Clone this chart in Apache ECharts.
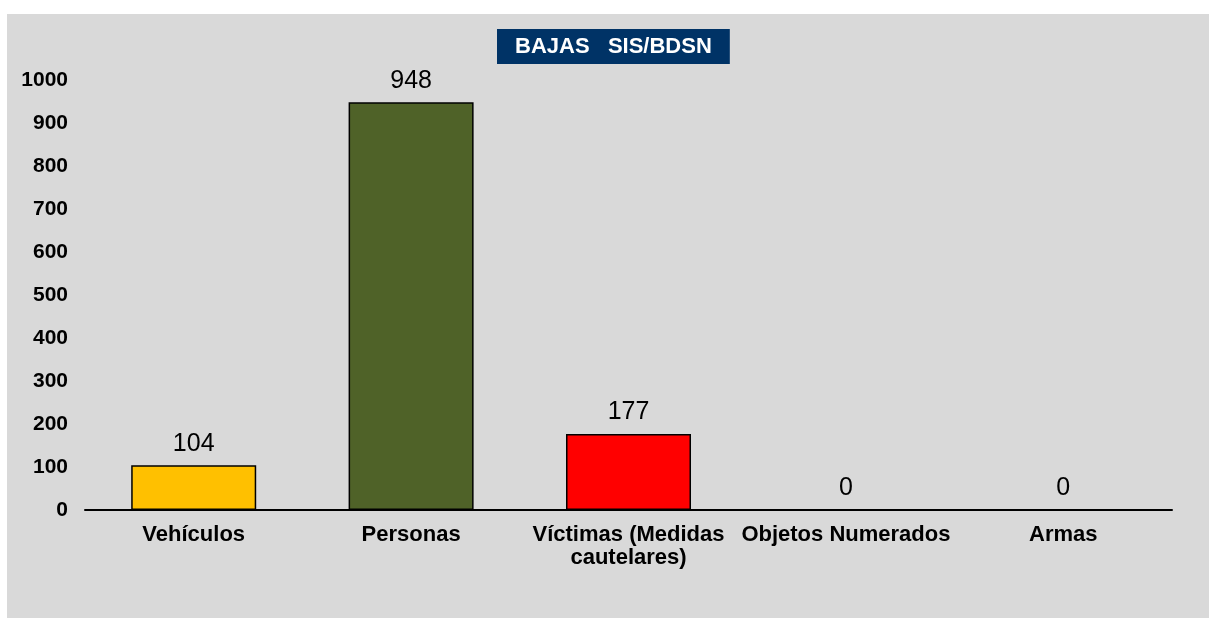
<!DOCTYPE html>
<html>
<head>
<meta charset="utf-8">
<style>
html,body{margin:0;padding:0;background:#ffffff;}
#chart{width:1209px;height:618px;}
</style>
<script src="https://cdn.jsdelivr.net/npm/echarts@6/dist/echarts.min.js"></script>
</head>
<body>
<div id="chart"></div>
<script>
const categories = ['Vehículos', 'Personas', 'Víctimas (Medidas\ncautelares)', 'Objetos Numerados', 'Armas'];
const values = [104, 948, 177, 0, 0];
const barColors = ['#FFC000', '#4F6228', '#FF0000', '#7F7F7F', '#7F7F7F'];
const yTicks = [0, 100, 200, 300, 400, 500, 600, 700, 800, 900, 1000];
const titleText = 'BAJAS   SIS/BDSN';

const chart = echarts.init(document.getElementById('chart'), null, {renderer: 'canvas'});
const font = '"Liberation Sans", Arial, sans-serif';
chart.setOption({
  backgroundColor: '#ffffff',
  animation: false,
  graphic: [{
    type: 'rect', left: 7, top: 14, z: -10,
    shape: {width: 1202, height: 604},
    style: {fill: '#D9D9D9'}
  }],
  title: {
    text: titleText,
    left: 497, top: 29,
    backgroundColor: '#003366',
    padding: [6, 18, 6, 18],
    textStyle: {color: '#ffffff', fontFamily: font, fontWeight: 'bold', fontSize: 22, lineHeight: 23}
  },
  grid: {left: 85, right: 37, top: 80, bottom: 108, containLabel: false},
  xAxis: {
    type: 'category',
    data: categories,
    axisLine: {show: true, lineStyle: {color: '#000000', width: 2}},
    axisTick: {show: false},
    axisLabel: {color: '#000000', fontFamily: font, fontWeight: 'bold', fontSize: 22, lineHeight: 23, margin: 13, interval: 0}
  },
  yAxis: {
    type: 'value',
    min: 0, max: 1000, interval: 100,
    axisLine: {show: false},
    axisTick: {show: false},
    splitLine: {show: false},
    axisLabel: {color: '#000000', fontFamily: font, fontWeight: 'bold', fontSize: 21, margin: 17,
      formatter: v => yTicks.includes(v) ? String(v) : ''}
  },
  series: [{
    type: 'bar',
    barWidth: 125,
    data: values.map((v, i) => ({value: v, itemStyle: {color: barColors[i]}})),
    itemStyle: {borderColor: '#000000', borderWidth: 1.5},
    label: {show: true, position: 'top', distance: 9, color: '#000000', fontFamily: font, fontSize: 25}
  }]
});
</script>
</body>
</html>
